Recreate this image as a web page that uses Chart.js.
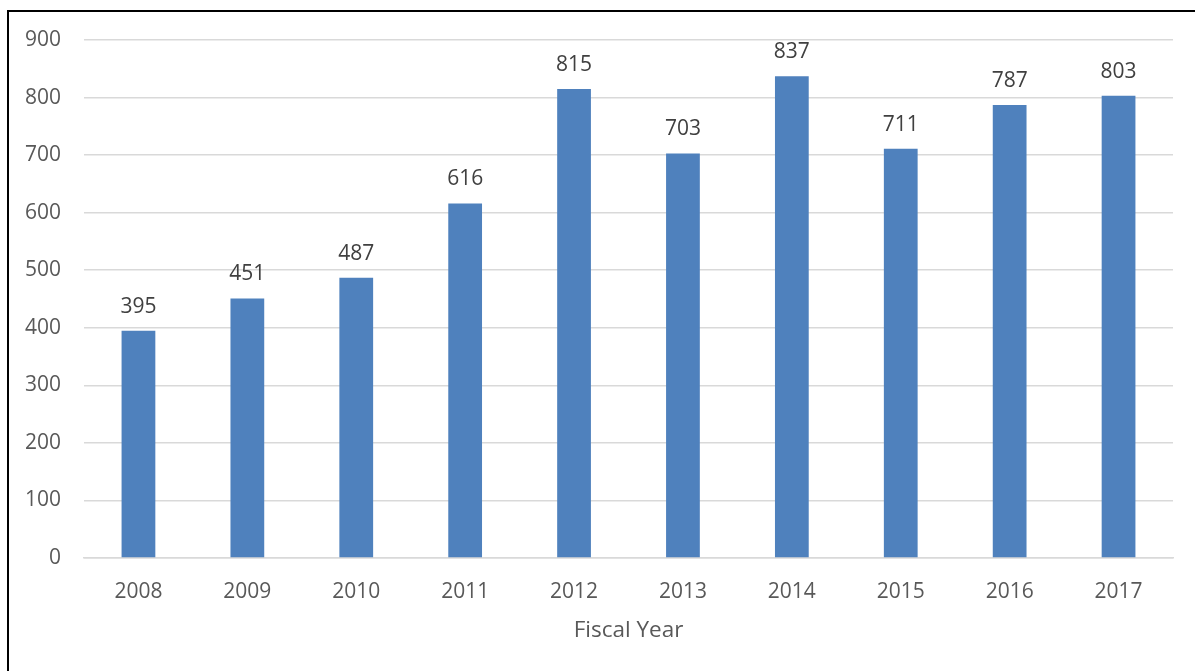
<!DOCTYPE html>
<html>
<head>
<meta charset="utf-8">
<script src="https://cdn.jsdelivr.net/npm/chart.js@4"></script>
<style>
  html, body { margin: 0; padding: 0; background: #fff; }
  #wrap { width: 1195px; height: 671px; position: relative; }
</style>
</head>
<body>
<div id="wrap"><canvas id="bars"></canvas></div>
<script>
// values
const years = ['2008', '2009', '2010', '2011', '2012', '2013', '2014', '2015', '2016', '2017'];
const counts = [395, 451, 487, 616, 815, 703, 837, 711, 787, 803];
const yTicks = [0, 100, 200, 300, 400, 500, 600, 700, 800, 900];

const FONT = "'Open Sans', 'Liberation Sans', sans-serif";

// numbers above each bar
const valueLabels = {
  id: 'valueLabels',
  afterDatasetsDraw(chart) {
    const ctx = chart.ctx;
    const meta = chart.getDatasetMeta(0);
    ctx.save();
    ctx.font = '21px ' + FONT;
    ctx.fillStyle = '#404040';
    ctx.textAlign = 'center';
    ctx.textBaseline = 'alphabetic';
    meta.data.forEach((bar, i) => {
      const p = bar.getProps(['x', 'y'], true);
      ctx.fillText(String(counts[i]), p.x, p.y - 18);
    });
    ctx.restore();
  }
};

// the frame on the left and top of the picture
const frame = {
  id: 'frame',
  afterDraw(chart) {
    const ctx = chart.ctx;
    ctx.save();
    ctx.strokeStyle = '#000';
    ctx.lineWidth = 2;
    ctx.beginPath();
    ctx.moveTo(8, 671);
    ctx.lineTo(8, 11);
    ctx.lineTo(1195, 11);
    ctx.stroke();
    ctx.restore();
  }
};

new Chart(document.getElementById('bars'), {
  type: 'bar',
  data: {
    labels: years,
    datasets: [{
      data: counts,
      backgroundColor: '#4F81BD',
      categoryPercentage: 1,
      barPercentage: 0.31
    }]
  },
  options: {
    responsive: true,
    maintainAspectRatio: false,
    animation: false,
    layout: { padding: { left: 0, right: 22, top: 40, bottom: 0 } },
    plugins: {
      legend: { display: false },
      tooltip: { enabled: false }
    },
    scales: {
      x: {
        grid: { display: false, drawTicks: false },
        border: { color: '#D9D9D9', width: 1.5 },
        ticks: { color: '#595959', font: { family: FONT, size: 21 }, padding: 21, maxRotation: 0 },
        title: {
          display: true,
          text: 'Fiscal Year',
          color: '#595959',
          font: { family: FONT, size: 22.5 },
          padding: { top: 0, bottom: 27 }
        },
        afterFit(scale) { scale.height = 113; }
      },
      y: {
        min: 0,
        max: 900,
        afterBuildTicks(scale) { scale.ticks = yTicks.map(v => ({ value: v })); },
        grid: { color: '#D9D9D9', lineWidth: 1.5, drawTicks: false },
        border: { display: false },
        ticks: { color: '#595959', font: { family: FONT, size: 21 }, padding: 23 },
        afterFit(scale) { scale.width = 84; }
      }
    }
  },
  plugins: [valueLabels, frame]
});
</script>
</body>
</html>
